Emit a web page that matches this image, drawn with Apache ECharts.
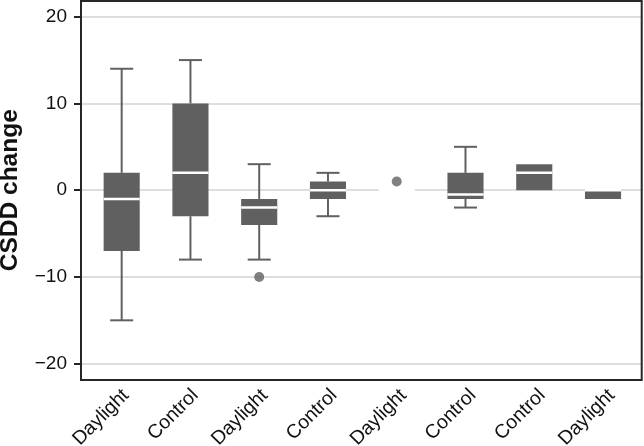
<!DOCTYPE html>
<html><head><meta charset="utf-8">
<script src="https://cdn.jsdelivr.net/npm/echarts@6/dist/echarts.min.js"></script>
<style>html,body{margin:0;padding:0;background:#fff}#c{width:644px;height:446px}</style>
</head><body><div id="c"></div>
<script>
const categories = ['Daylight','Control','Daylight','Control','Daylight','Control','Control','Daylight'];
const whiskerLow  = [-15, -8, -8, -3, 0, -2, 0, -1];
const q1          = [ -7, -3, -4, -1, 0, -1, 0, -1];
const median      = [ -1,  2, -2,  0, 0, -0.5, 2, 0];
const q3          = [  2, 10, -1,  1, 0,  2, 3, 0];
const whiskerHigh = [ 14, 15,  3,  2, 0,  5, 3, 0];
const outliers    = [[2, -10], [4, 1]];
const yMin = -20, yMax = 20, yStep = 10;

const BOX = '#606060';
const FONT = 'Liberation Sans, Arial, sans-serif';

function renderItem(params, api) {
  const i = api.value(0);
  const lo = api.value(1), a = api.value(2), m = api.value(3), b = api.value(4), hi = api.value(5);
  const step = api.size([1, 0])[0];
  const bw = step * 0.525, cw = step * 0.335;
  const c = v => api.coord([i, v]);
  const pLo = c(lo), pA = c(a), pM = c(m), pB = c(b), pHi = c(hi);
  const x = pM[0];
  const ls = {stroke: BOX, lineWidth: 2};
  const ch = [];
  if (hi > b) {
    ch.push({type: 'line', shape: {x1: x, y1: pB[1], x2: x, y2: pHi[1]}, style: ls});
    ch.push({type: 'line', shape: {x1: x - cw / 2, y1: pHi[1], x2: x + cw / 2, y2: pHi[1]}, style: ls});
  }
  if (lo < a) {
    ch.push({type: 'line', shape: {x1: x, y1: pA[1], x2: x, y2: pLo[1]}, style: ls});
    ch.push({type: 'line', shape: {x1: x - cw / 2, y1: pLo[1], x2: x + cw / 2, y2: pLo[1]}, style: ls});
  }
  if (b > a) {
    ch.push({type: 'rect', shape: {x: x - bw / 2, y: pB[1], width: bw, height: pA[1] - pB[1]}, style: {fill: BOX}});
  }
  ch.push({type: 'line', shape: {x1: x - bw / 2, y1: pM[1], x2: x + bw / 2, y2: pM[1]}, style: {stroke: '#ffffff', lineWidth: 2.5}});
  return {type: 'group', children: ch};
}

const chart = echarts.init(document.getElementById('c'), null, {renderer: 'canvas'});
chart.setOption({
  animation: false,
  backgroundColor: '#ffffff',
  grid: [
    {left: 81, top: 1, width: 560.7, height: 379, show: true, borderColor: '#262626', borderWidth: 2, backgroundColor: 'transparent', z: 5, outerBoundsMode: 'none'},
    {left: 81, top: 16.7, width: 560.7, height: 347, outerBoundsMode: 'none'},
    {left: 87.3, top: 16.7, width: 550.1, height: 347, outerBoundsMode: 'none'},
    {left: 91.2, top: 0, width: 555.2, height: 380, outerBoundsMode: 'none'}
  ],
  xAxis: [
    {gridIndex: 0, type: 'value', show: false},
    {gridIndex: 1, type: 'value', show: false},
    {gridIndex: 2, type: 'category', data: categories, show: false},
    {gridIndex: 3, type: 'category', data: categories,
      axisLine: {show: false}, axisTick: {show: false}, splitLine: {show: false},
      axisLabel: {rotate: 45, margin: 12.5, fontSize: 19.5, color: '#111', fontFamily: FONT}}
  ],
  yAxis: [
    {gridIndex: 0, type: 'value', show: false},
    {gridIndex: 1, type: 'value', min: yMin, max: yMax, interval: yStep,
      axisLine: {show: false, onZero: false},
      axisTick: {show: true, length: 7, lineStyle: {color: '#262626', width: 2}},
      axisLabel: {margin: 14, fontSize: 19, color: '#111', fontFamily: FONT,
        formatter: v => String(v).replace('-', '\u2212')},
      splitLine: {show: true, lineStyle: {color: '#dedede', width: 2}},
      name: 'CSDD change', nameLocation: 'middle', nameGap: 58,
      nameTextStyle: {fontSize: 24.5, fontWeight: 'bold', color: '#111', fontFamily: FONT}},
    {gridIndex: 2, type: 'value', min: yMin, max: yMax, show: false},
    {gridIndex: 3, type: 'value', show: false}
  ],
  series: [
    {type: 'custom', xAxisIndex: 2, yAxisIndex: 2, z: 3,
      renderItem: renderItem,
      encode: {x: 0, y: [1, 2, 3, 4, 5]},
      data: categories.map((c, i) => [i, whiskerLow[i], q1[i], median[i], q3[i], whiskerHigh[i]])},
    {type: 'scatter', xAxisIndex: 2, yAxisIndex: 2, z: 3,
      symbol: 'circle', symbolSize: 10, itemStyle: {color: BOX},
      data: outliers}
  ]
});
</script></body></html>
